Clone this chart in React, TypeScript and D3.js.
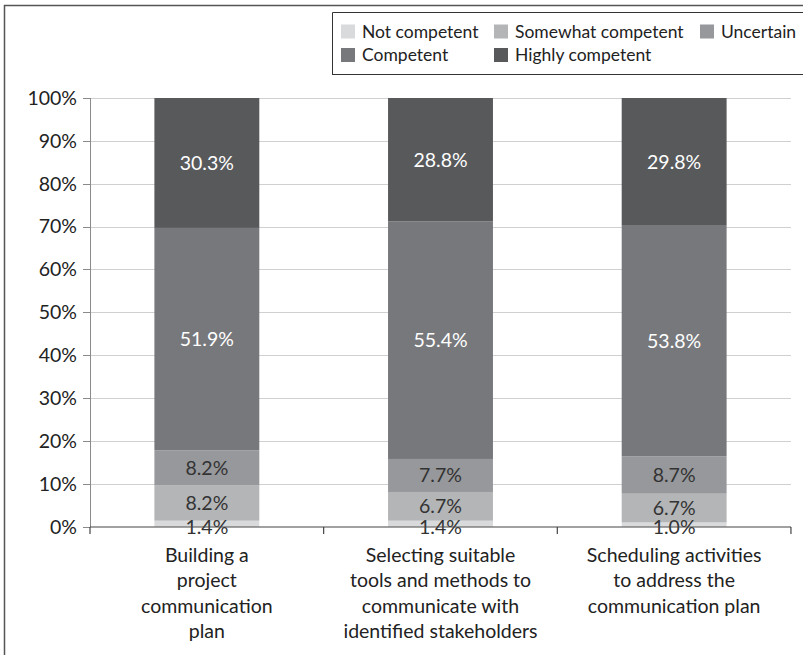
import React from "react";
import * as d3 from "d3";

const categories = ["Building a project communication plan", "Selecting suitable tools and methods to communicate with identified stakeholders", "Scheduling activities to address the communication plan"];
const categoryLines = [
  ["Building a", "project", "communication", "plan"],
  ["Selecting suitable", "tools and methods to", "communicate with", "identified stakeholders"],
  ["Scheduling activities", "to address the", "communication plan"],
];
const seriesNames = ["Not competent", "Somewhat competent", "Uncertain", "Competent", "Highly competent"];
const notCompetent = [1.4, 1.4, 1.0];
const somewhatCompetent = [8.2, 6.7, 6.7];
const uncertain = [8.2, 7.7, 8.7];
const competent = [51.9, 55.4, 53.8];
const highlyCompetent = [30.3, 28.8, 29.8];
const yTicks = [0, 10, 20, 30, 40, 50, 60, 70, 80, 90, 100];

const colors = ["#d9dadb", "#b4b5b7", "#97989b", "#77787c", "#58595b"];
const labelColors = ["#333", "#333", "#333", "#fff", "#fff"];

const W = 803, H = 655;
const FONT = "Lato, 'Open Sans', sans-serif";

export default function App() {
  const series = [notCompetent, somewhatCompetent, uncertain, competent, highlyCompetent];
  const x = d3.scaleBand<string>().domain(categories).range([90, 791]).paddingInner(0.551).paddingOuter(0.2756);
  const y = d3.scaleLinear().domain([0, 100]).range([526.7, 98]);
  const rows = categories.map((c, i) => {
    const o: any = { cat: c };
    seriesNames.forEach((s, k) => (o[s] = series[k][i]));
    return o;
  });
  const stacked = d3.stack().keys(seriesNames)(rows);

  const legendItems = [
    { name: seriesNames[0], x: 341, y: 31.5, c: colors[0] },
    { name: seriesNames[1], x: 494, y: 31.5, c: colors[1] },
    { name: seriesNames[2], x: 700, y: 31.5, c: colors[2] },
    { name: seriesNames[3], x: 341, y: 55, c: colors[3] },
    { name: seriesNames[4], x: 494, y: 55, c: colors[4] },
  ];

  return (
    <div style={{ position: "absolute", left: 0, top: 0 }}>
      <svg width={W} height={H} style={{ display: "block", background: "#fff" }} fontFamily={FONT}>
        {/* outer frame */}
        <path d={`M4.5,${H + 2} V5.5 H${W + 2}`} fill="none" stroke="#555" strokeWidth={1.5} />
        {/* legend box */}
        <path d={`M332.5,75 V12.5 H${W + 2} M332.5,74.5 H${W + 2}`} fill="none" stroke="#333" strokeWidth={1} />
        {legendItems.map((l) => (
          <g key={l.name}>
            <rect x={l.x} y={l.y - 7} width={14} height={14} fill={l.c} />
            <text x={l.x + 21} y={l.y} dy="0.35em" fontSize={17.5} fill="#222">{l.name}</text>
          </g>
        ))}
        {/* gridlines */}
        {yTicks.filter((t) => t > 0).map((t) => (
          <line key={t} x1={90} x2={791} y1={Math.round(y(t)) + 0.5} y2={Math.round(y(t)) + 0.5} stroke="#d0d0d0" strokeWidth={1} />
        ))}
        {/* bars */}
        {stacked.map((s, k) => (
          <g key={s.key}>
            {s.map((d, i) => (
              <rect key={i} x={x(categories[i])} width={x.bandwidth()} y={y(d[1])} height={y(d[0]) - y(d[1])} fill={colors[k]} />
            ))}
          </g>
        ))}
        {/* data labels */}
        {stacked.map((s, k) => (
          <g key={"l" + s.key}>
            {s.map((d, i) => (
              <text key={i} x={(x(categories[i]) as number) + x.bandwidth() / 2} y={k === 0 ? y(0) : y((d[0] + d[1]) / 2)} dy="0.35em" textAnchor="middle" fontSize={19.5} fill={labelColors[k]}>
                {series[k][i].toFixed(1)}%
              </text>
            ))}
          </g>
        ))}
        {/* y axis */}
        <line x1={90.5} x2={90.5} y1={98} y2={527} stroke="#8a8a8a" strokeWidth={1} />
        {yTicks.map((t) => (
          <g key={"t" + t}>
            <line x1={83} x2={90} y1={Math.round(y(t)) + 0.5} y2={Math.round(y(t)) + 0.5} stroke="#8a8a8a" />
            <text x={77} y={y(t)} dy="0.35em" textAnchor="end" fontSize={19.5} fill="#222">{t}%</text>
          </g>
        ))}
        {/* x axis */}
        <line x1={90} x2={791} y1={527} y2={527} stroke="#444" strokeWidth={1.2} />
        {[0, 1, 2, 3].map((i) => {
          const xx = 90 + i * x.step();
          return <line key={"xt" + i} x1={xx} x2={xx} y1={527} y2={534} stroke="#444" strokeWidth={1.2} />;
        })}
        {categoryLines.map((lines, i) => (
          <text key={"c" + i} x={(x(categories[i]) as number) + x.bandwidth() / 2} textAnchor="middle" fontSize={19.5} fill="#222">
            {lines.map((ln, j) => (
              <tspan key={j} x={(x(categories[i]) as number) + x.bandwidth() / 2} y={555 + j * 25.5} dy="0.35em">{ln}</tspan>
            ))}
          </text>
        ))}
      </svg>
    </div>
  );
}
